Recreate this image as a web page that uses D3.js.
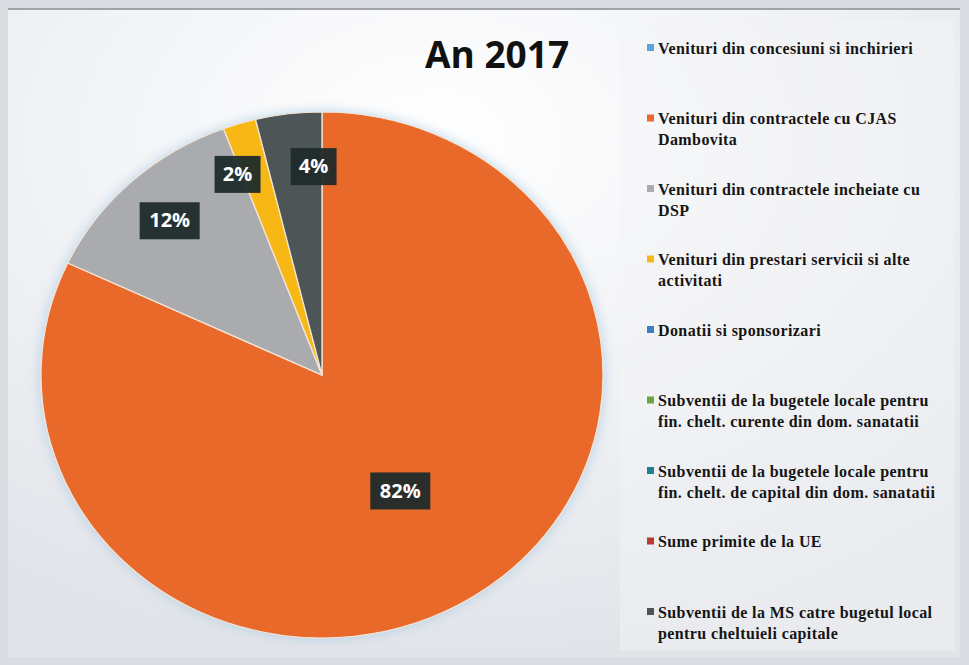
<!DOCTYPE html>
<html><head><meta charset="utf-8">
<script src="https://cdn.jsdelivr.net/npm/d3@7"></script>
<style>html,body{margin:0;padding:0;background:#fff;}svg{display:block;}
.lgt{font-family:"Liberation Serif","Times New Roman","DejaVu Serif",serif;font-weight:bold;}</style>
</head><body>
<svg id="c" width="969" height="665"></svg>
<script>
const title = "An 2017";
const categories = [
  "Venituri din concesiuni si inchirieri",
  "Venituri din contractele cu CJAS Dambovita",
  "Venituri din contractele incheiate cu DSP",
  "Venituri din prestari servicii si alte activitati",
  "Donatii si sponsorizari",
  "Subventii de la bugetele locale pentru fin. chelt. curente din dom. sanatatii",
  "Subventii de la bugetele locale pentru fin. chelt. de capital din dom. sanatatii",
  "Sume primite de la UE",
  "Subventii de la MS catre bugetul local pentru cheltuieli capitale"
];
const legendLines = [
  ["Venituri din concesiuni si inchirieri"],
  ["Venituri din contractele cu CJAS", "Dambovita"],
  ["Venituri din contractele incheiate cu", "DSP"],
  ["Venituri din prestari servicii si alte", "activitati"],
  ["Donatii si sponsorizari"],
  ["Subventii de la bugetele locale pentru", "fin. chelt. curente din dom. sanatatii"],
  ["Subventii de la bugetele locale pentru", "fin. chelt. de capital din dom. sanatatii"],
  ["Sume primite de la UE"],
  ["Subventii de la MS catre bugetul local", "pentru cheltuieli capitale"]
];
const values = [0, 82.0, 12.3, 1.9, 0, 0, 0, 0, 3.8];
const colors = ["#5ba3d9", "#e8692a", "#a9abae", "#f7b815", "#3f7fc1", "#6ca544", "#237f8f", "#b83a28", "#4d5456"];

const svg = d3.select("#c");
const W = 969, H = 665;
const defs = svg.append("defs");
const bg = defs.append("radialGradient").attr("id","bg").attr("cx","45%").attr("cy","20%").attr("r","80%");
bg.append("stop").attr("offset","0%").attr("stop-color","#ffffff");
bg.append("stop").attr("offset","60%").attr("stop-color","#eef0f3");
bg.append("stop").attr("offset","100%").attr("stop-color","#e1e4e9");
const sh = defs.append("filter").attr("id","sh").attr("x","-20%").attr("y","-20%").attr("width","140%").attr("height","140%");
sh.append("feGaussianBlur").attr("in","SourceAlpha").attr("stdDeviation",6).attr("result","b");
sh.append("feFlood").attr("flood-color","#9fc3e0").attr("flood-opacity",0.7);
sh.append("feComposite").attr("in2","b").attr("operator","in").attr("result","s");
const fm = sh.append("feMerge"); fm.append("feMergeNode").attr("in","s"); fm.append("feMergeNode").attr("in","SourceGraphic");

svg.append("rect").attr("width",W).attr("height",H).attr("fill","#d9dce1");
svg.append("rect").attr("x",8).attr("y",9).attr("width",952).attr("height",648).attr("fill","url(#bg)");
svg.append("line").attr("x1",8).attr("x2",960).attr("y1",9).attr("y2",9).attr("stroke","#8a8d92").attr("stroke-width",1.5);
svg.append("rect").attr("x",620).attr("y",20).attr("width",335).attr("height",630).attr("fill","#f3f4f7").attr("opacity",0.45);

svg.append("text").attr("x",497).attr("y",68).attr("text-anchor","middle")
  .attr("font-family","'Open Sans', Lato, sans-serif").attr("font-weight","bold").attr("font-size",37)
  .attr("fill","#111").text(title);

const cx = 322, cy = 375, ry = 263, sx = 281/263;
const data = categories.map((c,i)=>({c, v: values[i], col: colors[i]}));
const pie = d3.pie().value(d=>d.v).sort(null);
const arcs = pie(data).filter(a=>a.data.v>0);
const arc = d3.arc().innerRadius(0).outerRadius(ry);
const g = svg.append("g").attr("transform",`translate(${cx},${cy}) scale(${sx},1)`);
g.append("g").attr("filter","url(#sh)").selectAll("path").data(arcs).join("path")
  .attr("d",arc).attr("fill",d=>d.data.col).attr("stroke","#f2e6d8").attr("stroke-width",1.2);

// labels
const total = d3.sum(values);
const lab = arcs.map(a=>{
  const frac = (a.endAngle-a.startAngle)/(2*Math.PI);
  const r = frac>0.5 ? ry*0.52 : ry*0.8;
  const m = (a.startAngle+a.endAngle)/2;
  return {a, txt: Math.round(a.data.v/total*100)+"%", x: cx + Math.sin(m)*r*sx, y: cy - Math.cos(m)*r};
});
const bw = t=> t.length>2 ? 60 : 46;
for (let k=0;k<20;k++){
  for (let i=0;i<lab.length;i++) for (let j=i+1;j<lab.length;j++){
    const A=lab[i], B=lab[j];
    const minD = (bw(A.txt)+bw(B.txt))/2 + 30;
    if (Math.abs(A.y-B.y)<37 && Math.abs(A.x-B.x)<minD){
      const push = (minD-Math.abs(A.x-B.x))/2;
      if (A.x<B.x){A.x-=push;B.x+=push;} else {A.x+=push;B.x-=push;}
    }
  }
}
const lg = svg.append("g").selectAll("g").data(lab).join("g").attr("transform",d=>`translate(${d.x},${d.y})`);
lg.append("rect").attr("x",d=>-bw(d.txt)/2).attr("y",-18).attr("width",d=>bw(d.txt)).attr("height",37)
  .attr("fill","#1f2b2b").attr("opacity",0.95);
lg.append("text").attr("text-anchor","middle").attr("dy","0.36em")
  .attr("font-family","'Open Sans', Lato, sans-serif").attr("font-weight","bold").attr("font-size",20)
  .attr("fill","#fff").text(d=>d.txt);

// legend
const ly = d3.scalePoint().domain(d3.range(categories.length)).range([48, 612]);
const leg = svg.append("g").selectAll("g").data(categories).join("g")
  .attr("transform",(d,i)=>`translate(647,${ly(i)})`);
leg.append("rect").attr("x",0).attr("y",-4).attr("width",7).attr("height",7).attr("fill",(d,i)=>colors[i]);
leg.append("text").attr("class","lgt")
  .attr("font-size",16).attr("letter-spacing",0.4).attr("fill","#151515")
  .selectAll("tspan").data((d,i)=>legendLines[i]).join("tspan")
  .attr("x",11).attr("y",(d,j)=>j*21).attr("dy","0.35em").text(d=>d);
</script>
</body></html>
